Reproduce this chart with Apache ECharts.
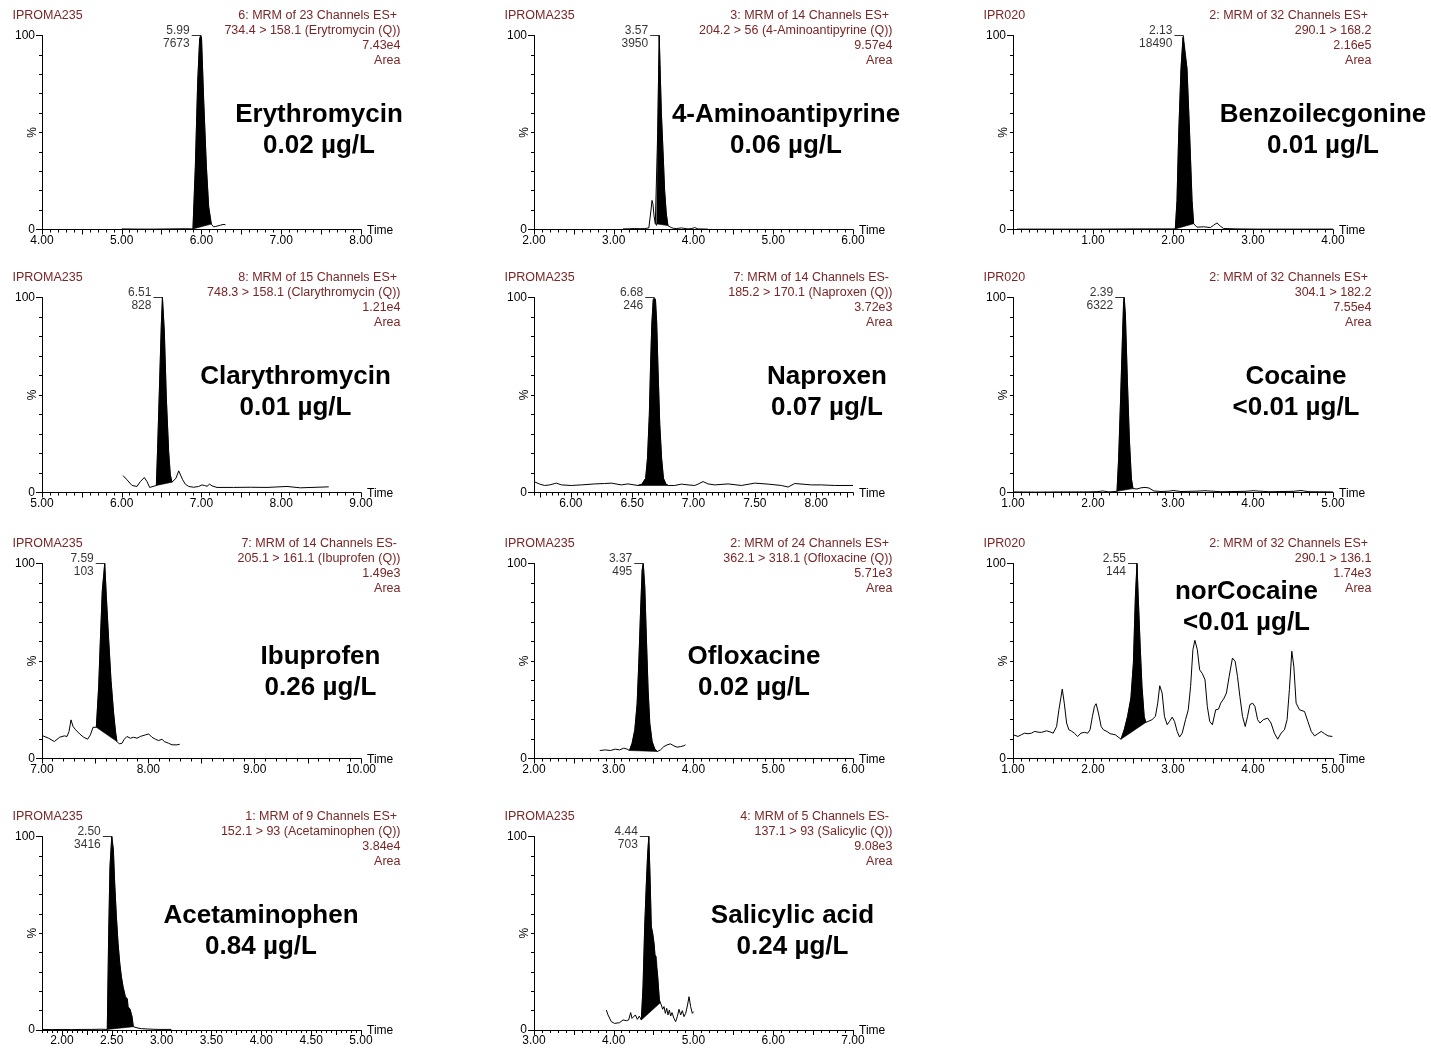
<!DOCTYPE html>
<html>
<head>
<meta charset="utf-8">
<script src="https://cdn.jsdelivr.net/npm/echarts@6/dist/echarts.min.js"></script>
<style>
html,body{margin:0;padding:0;background:#fff;}
#chart{width:1431px;height:1051px;}
</style>
</head>
<body>
<div id="chart"></div>
<script>
// ---------- DATA ----------
var sampleNames = ['IPROMA235','IPROMA235','IPR020','IPROMA235','IPROMA235','IPR020','IPROMA235','IPROMA235','IPR020','IPROMA235','IPROMA235'];
var channelInfo = [
  ['6: MRM of 23 Channels ES+','734.4 > 158.1 (Erytromycin (Q))','7.43e4','Area'],
  ['3: MRM of 14 Channels ES+','204.2 > 56 (4-Aminoantipyrine (Q))','9.57e4','Area'],
  ['2: MRM of 32 Channels ES+','290.1 > 168.2','2.16e5','Area'],
  ['8: MRM of 15 Channels ES+','748.3 > 158.1 (Clarythromycin (Q))','1.21e4','Area'],
  ['7: MRM of 14 Channels ES-','185.2 > 170.1 (Naproxen (Q))','3.72e3','Area'],
  ['2: MRM of 32 Channels ES+','304.1 > 182.2','7.55e4','Area'],
  ['7: MRM of 14 Channels ES-','205.1 > 161.1 (Ibuprofen (Q))','1.49e3','Area'],
  ['2: MRM of 24 Channels ES+','362.1 > 318.1 (Ofloxacine (Q))','5.71e3','Area'],
  ['2: MRM of 32 Channels ES+','290.1 > 136.1','1.74e3','Area'],
  ['1: MRM of 9 Channels ES+','152.1 > 93 (Acetaminophen (Q))','3.84e4','Area'],
  ['4: MRM of 5 Channels ES-','137.1 > 93 (Salicylic (Q))','9.08e3','Area']
];
var compounds = ['Erythromycin','4-Aminoantipyrine','Benzoilecgonine','Clarythromycin','Naproxen','Cocaine','Ibuprofen','Ofloxacine','norCocaine','Acetaminophen','Salicylic acid'];
var concentrations = ['0.02 µg/L','0.06 µg/L','0.01 µg/L','0.01 µg/L','0.07 µg/L','<0.01 µg/L','0.26 µg/L','0.02 µg/L','<0.01 µg/L','0.84 µg/L','0.24 µg/L'];
var peakRT = [5.99, 3.57, 2.13, 6.51, 6.68, 2.39, 7.59, 3.37, 2.55, 2.50, 4.44];
var peakHeight = [7673, 3950, 18490, 828, 246, 6322, 103, 495, 144, 3416, 703];
var peakWindows = [[5.893,6.123],[3.521,3.68],[2.029,2.258],[6.434,6.630],[6.548,6.795],[2.30,2.50],[7.511,7.705],[3.197,3.548],[2.35,2.66],[2.455,2.716],[4.346,4.584]];
var timeRanges = [[4,8],[2,6],[0,4],[5,9],[5.7,8.3],[1,5],[7,10],[2,6],[1,5],[1.8,5],[3,7]];
var timeLabels = [[4,5,6,7,8],[2,3,4,5,6],[1,2,3,4],[5,6,7,8,9],[6,6.5,7,7.5,8],[1,2,3,4,5],[7,8,9,10],[2,3,4,5,6],[1,2,3,4,5],[2,2.5,3,3.5,4,4.5,5],[3,4,5,6,7]];
var percentLabels = [0, 100];

var trace1 = [[5.00,0.3],[5.20,0.2],[5.40,0.2],[5.60,0.3],[5.80,0.4],[5.893,0.3],[5.923,32.5],[5.952,75.8],[5.977,98.3],[5.99,100],[6.00,98.8],[6.027,67],[6.061,32.5],[6.090,11.7],[6.123,2.8],[6.15,1.4],[6.18,1.6],[6.236,2.2],[6.27,2.6],[6.30,2.5]];
var trace2 = [[3.116,0.3],[3.20,0.4],[3.26,0.5],[3.33,0.4],[3.39,0.5],[3.44,0.8],[3.455,1.4],[3.467,10],[3.48,15],[3.492,13],[3.505,7],[3.521,3],[3.538,2],[3.551,50],[3.57,100],[3.58,85],[3.597,60],[3.618,40],[3.638,20],[3.659,8],[3.68,2],[3.72,1],[3.75,0.6],[3.785,0.5],[3.85,0.8],[3.93,0.3],[3.98,0.5],[4.015,1.0],[4.056,0.3],[4.18,0.2]];
var trace3 = [[0.05,0.2],[0.5,0.2],[1.0,0.2],[1.5,0.3],[1.9,0.3],[2.029,0.3],[2.05,15],[2.071,49],[2.10,83],[2.125,99],[2.13,100],[2.175,83],[2.208,49],[2.238,15],[2.258,3],[2.30,1.2],[2.383,1.4],[2.467,1.0],[2.508,2.2],[2.55,3.4],[2.592,1.7],[2.633,0.5],[2.8,0.3],[3.05,0.2],[3.5,0.2],[4.0,0.2]];
var trace4 = [[6.016,8.7],[6.066,6.5],[6.129,3.6],[6.191,3.1],[6.233,5.6],[6.283,7.7],[6.317,5.6],[6.350,2.6],[6.392,3.1],[6.434,3.6],[6.450,22.7],[6.475,56.8],[6.496,85.8],[6.51,100],[6.534,82.4],[6.559,48.3],[6.588,21.0],[6.609,9.0],[6.630,5.3],[6.651,5.6],[6.680,7.3],[6.714,11.1],[6.735,10.4],[6.764,6.5],[6.797,4.3],[6.839,3.1],[6.902,2.7],[6.964,3.1],[7.006,3.9],[7.036,3.6],[7.069,3.2],[7.102,4.3],[7.132,3.4],[7.194,2.6],[7.403,2.6],[7.612,2.7],[7.821,2.6],[8.072,3.1],[8.239,2.4],[8.595,2.9]];
var trace5 = [[5.700,5.6],[5.746,4.3],[5.787,3.6],[5.828,3.9],[5.882,4.8],[5.923,3.9],[6.004,3.6],[6.086,3.9],[6.195,4.4],[6.276,4.6],[6.330,4.8],[6.412,3.9],[6.466,4.4],[6.548,3.6],[6.58,4.3],[6.61,7.3],[6.625,17.6],[6.64,40],[6.65,65],[6.66,86],[6.672,99],[6.68,100],[6.69,99],[6.70,87],[6.71,65],[6.725,35],[6.74,17.6],[6.755,7.3],[6.775,4.3],[6.795,3.6],[6.847,3.6],[6.901,4.3],[6.955,3.9],[7.010,3.6],[7.037,4.3],[7.078,5.6],[7.118,4.4],[7.173,3.9],[7.282,4.4],[7.390,3.6],[7.499,4.8],[7.608,4.3],[7.716,3.6],[7.771,2.8],[7.825,4.6],[7.961,3.9],[8.042,3.9],[8.151,3.6],[8.30,3.6]];
var trace6 = [[1.0,0.3],[1.3,0.2],[1.6,0.3],[1.9,0.3],[2.05,0.4],[2.12,0.8],[2.2,0.3],[2.30,0.6],[2.32,17],[2.345,48],[2.37,82],[2.383,98],[2.39,100],[2.405,91],[2.43,57],[2.455,27],[2.48,7],[2.50,2],[2.55,1.8],[2.6,2.4],[2.65,2.6],[2.7,2.3],[2.76,0.8],[2.85,0.5],[2.95,0.7],[3.0,1.0],[3.1,0.5],[3.3,0.7],[3.4,0.9],[3.6,0.4],[3.9,0.6],[4.0,0.9],[4.2,0.4],[4.5,0.6],[4.6,1.0],[4.7,0.4],[5.0,0.3]];
var trace7 = [[7.009,11.6],[7.063,10.4],[7.116,8.7],[7.166,10.9],[7.210,11.6],[7.235,11.3],[7.254,13.8],[7.273,19.8],[7.292,16.4],[7.317,14.7],[7.354,12.6],[7.392,10.9],[7.429,9.9],[7.455,12.1],[7.480,16.0],[7.495,16.7],[7.511,16.0],[7.533,36.9],[7.549,60.8],[7.567,86],[7.59,100],[7.605,83],[7.627,61],[7.649,40],[7.674,23],[7.693,13],[7.705,8.7],[7.727,7.5],[7.752,7.8],[7.774,9.9],[7.799,11.3],[7.831,10.4],[7.862,10.9],[7.893,10.4],[7.925,11.3],[7.972,12.1],[8.003,12.6],[8.034,10.9],[8.066,9.9],[8.097,9.2],[8.129,9.9],[8.150,8.7],[8.191,7.8],[8.223,7.0],[8.270,7.0],[8.295,7.3]];
var trace8 = [[2.825,4.1],[2.896,4.4],[2.959,4.1],[3.021,4.8],[3.072,4.4],[3.126,5.3],[3.168,4.8],[3.197,4.1],[3.230,7.8],[3.264,14.7],[3.293,28],[3.314,48.8],[3.335,74],[3.356,96.6],[3.37,100],[3.389,88],[3.410,60.8],[3.431,35],[3.452,18],[3.481,8.7],[3.515,4.8],[3.548,3.6],[3.586,4.4],[3.628,6.1],[3.669,7.0],[3.711,7.5],[3.753,6.5],[3.795,5.8],[3.837,6.1],[3.878,6.5],[3.899,7.0]];
var trace9 = [[1.000,12.2],[1.063,11.3],[1.105,12.2],[1.147,13.0],[1.188,12.7],[1.230,13.0],[1.272,13.9],[1.314,13.5],[1.356,13.4],[1.419,14.2],[1.461,13.7],[1.503,13.0],[1.545,16.4],[1.574,25.0],[1.616,35.6],[1.641,28.4],[1.670,18.2],[1.699,14.7],[1.733,14.0],[1.766,13.0],[1.808,11.3],[1.850,13.0],[1.892,13.4],[1.934,13.0],[1.963,14.7],[1.993,21.6],[2.018,26.7],[2.039,28.1],[2.068,23.3],[2.102,16.4],[2.131,14.7],[2.173,13.9],[2.215,12.7],[2.277,12.2],[2.35,9.9],[2.39,14.7],[2.432,21.6],[2.474,31.0],[2.505,49.0],[2.53,83.2],[2.55,100],[2.565,83.2],[2.59,57.5],[2.612,37.0],[2.64,21.6],[2.66,18.5],[2.688,19.0],[2.738,19.9],[2.780,21.6],[2.809,28.4],[2.834,37.3],[2.864,33.6],[2.893,21.6],[2.927,17.3],[2.956,19.0],[2.990,21.2],[3.019,19.0],[3.052,13.9],[3.082,11.0],[3.115,13.0],[3.157,19.9],[3.191,25.0],[3.220,37.0],[3.249,55.8],[3.274,60.6],[3.304,55.8],[3.333,45.5],[3.367,43.5],[3.400,40.4],[3.429,26.7],[3.459,19.0],[3.492,17.3],[3.534,25.0],[3.568,25.3],[3.597,28.4],[3.639,31.0],[3.668,33.6],[3.702,42.1],[3.743,51.5],[3.777,49.8],[3.806,42.1],[3.836,31.8],[3.869,21.6],[3.903,16.4],[3.932,21.6],[3.961,27.6],[3.995,28.4],[4.024,26.7],[4.058,19.9],[4.087,18.2],[4.129,19.9],[4.183,20.7],[4.225,18.2],[4.267,13.0],[4.309,9.9],[4.351,13.0],[4.393,14.7],[4.426,19.9],[4.455,35.3],[4.485,55.0],[4.510,47.3],[4.539,28.4],[4.581,25.0],[4.644,24.1],[4.686,19.0],[4.728,13.9],[4.770,11.6],[4.811,12.7],[4.853,13.9],[4.895,12.7],[4.937,11.6],[4.992,11.3]];
var trace10 = [[1.81,0.3],[1.9,0.2],[2.0,0.3],[2.1,0.2],[2.2,0.3],[2.3,0.3],[2.4,0.4],[2.455,0.3],[2.469,50],[2.482,84.5],[2.50,100],[2.516,93],[2.529,75.9],[2.546,58.6],[2.563,44.8],[2.580,34.5],[2.596,27.6],[2.613,22.4],[2.636,17.2],[2.656,16],[2.663,12],[2.683,10.7],[2.703,6.9],[2.716,1.7],[2.730,1.2],[2.763,1.0],[2.797,0.7],[2.864,0.5],[2.964,0.3],[3.098,0.3]];
var trace11 = [[3.907,10.3],[3.928,7.8],[3.970,4.3],[4.011,3.4],[4.074,3.8],[4.116,5.2],[4.158,4.8],[4.187,5.2],[4.212,9.0],[4.229,6.0],[4.254,6.0],[4.271,7.8],[4.296,5.5],[4.321,7.2],[4.346,5.2],[4.367,22.4],[4.388,53.4],[4.409,75.9],[4.425,91],[4.44,100],[4.455,79.3],[4.471,53.4],[4.488,50],[4.505,44.8],[4.517,38.8],[4.534,37.9],[4.551,27.6],[4.572,15.5],[4.584,14.1],[4.597,12.9],[4.613,10.7],[4.630,12.1],[4.647,8.6],[4.664,11.2],[4.680,7.8],[4.697,10.3],[4.714,7.2],[4.730,9.0],[4.755,6.0],[4.776,4.3],[4.797,6.9],[4.818,10.7],[4.839,7.8],[4.860,10.0],[4.881,6.9],[4.902,8.6],[4.923,12.4],[4.944,17.2],[4.964,12.1],[4.985,8.6],[5.002,9.5]];
var traces = [trace1,trace2,trace3,trace4,trace5,trace6,trace7,trace8,trace9,trace10,trace11];

// ---------- LAYOUT ----------
var colLeft = [42, 534, 1013];
var colWidth = [319, 319, 320];
var rowTop = [35.5, 297.5, 563.5, 836.5];
var rowHeight = [194, 195, 195, 193.5];
var tickSteps = [[0.1,0.5],[0.1,0.5],[0.1,0.5],[0.1,0.5],[0.05,0.25],[0.1,0.5],[0.1,0.5],[0.1,0.5],[0.1,0.5],[0.05,0.25],[0.1,0.5]];
var namePos = [[319,115],[786,115],[1323,115],[295.5,377],[827,377],[1296,377],[320.5,657],[754,657],[1246.5,592],[261,916],[792.5,916]];

var FONT = '"Liberation Sans", Arial, Helvetica, sans-serif';
var RED = '#7a2626';

function stepValues(min, max, step){
  var out = [];
  var k0 = Math.ceil(min/step - 1e-6), k1 = Math.floor(max/step + 1e-6);
  for (var k = k0; k <= k1; k++) out.push(Math.round(k*step*1000)/1000);
  return out;
}

var grids = [], xAxes = [], yAxes = [], series = [], graphics = [];

traces.forEach(function(tr, i){
  var r = Math.floor(i/3), c = i % 3;
  grids.push({left: colLeft[c], top: rowTop[r], width: colWidth[c], height: rowHeight[r], containLabel:false, outerBoundsMode:'none'});
  var xr = timeRanges[i];
  var majors = stepValues(xr[0], xr[1], tickSteps[i][1]);
  var minors = stepValues(xr[0], xr[1], tickSteps[i][0]).filter(function(v){ return majors.indexOf(v) < 0; });
  xAxes.push({
    gridIndex:i, type:'value', min:xr[0], max:xr[1], position:'bottom',
    axisLine:{show:true, onZero:false, lineStyle:{color:'#000', width:1}},
    axisTick:{show:true, customValues:majors, length:5, lineStyle:{color:'#000', width:1}},
    axisLabel:{show:true, customValues:timeLabels[i], formatter:function(v){ return Number(v).toFixed(2); }, color:'#000', fontSize:12, margin:5, fontFamily:FONT},
    splitLine:{show:false}
  });
  xAxes.push({
    gridIndex:i, type:'value', min:xr[0], max:xr[1], position:'bottom',
    axisLine:{show:false}, axisLabel:{show:false}, splitLine:{show:false},
    axisTick:{show:true, customValues:minors, length:3, lineStyle:{color:'#000', width:1}}
  });
  yAxes.push({
    gridIndex:i, type:'value', min:0, max:100, position:'left',
    axisLine:{show:true, onZero:false, lineStyle:{color:'#000', width:1}},
    axisTick:{show:true, customValues:percentLabels, length:6, lineStyle:{color:'#000', width:1}},
    axisLabel:{show:true, customValues:percentLabels, color:'#000', fontSize:12, margin:7, fontFamily:FONT},
    splitLine:{show:false}
  });
  yAxes.push({
    gridIndex:i, type:'value', min:0, max:100, position:'left',
    axisLine:{show:false}, axisLabel:{show:false}, splitLine:{show:false},
    axisTick:{show:true, customValues:[10,20,30,40,50,60,70,80,90], length:3, lineStyle:{color:'#000', width:1}}
  });

  // trace line
  series.push({type:'line', xAxisIndex:2*i, yAxisIndex:2*i, data:tr, showSymbol:false, symbol:'none',
    lineStyle:{color:'#000', width:1}, animation:false, silent:true, z:3});

  // integrated (filled) peak
  var win = peakWindows[i];
  var pts = tr.filter(function(p){ return p[0] >= win[0]-1e-9 && p[0] <= win[1]+1e-9; });
  series.push({type:'custom', xAxisIndex:2*i, yAxisIndex:2*i, data:[pts[0]], animation:false, silent:true, z:2,
    renderItem:(function(pp){ return function(params, api){
      return {type:'polygon', shape:{points: pp.map(function(p){ return api.coord(p); })},
        style:{fill:'#000', stroke:'#000', lineWidth:0.6}};
    }; })(pts)});

  // peak apex label
  series.push({type:'scatter', xAxisIndex:2*i, yAxisIndex:2*i, data:[[peakRT[i], 100]],
    symbol:'rect', symbolSize:[9,1], symbolOffset:[-4.5,0], itemStyle:{color:'#000'},
    animation:false, silent:true, z:4,
    label:{show:true, position:'left', distance:2, offset:[0,2], align:'right',
      formatter: peakRT[i].toFixed(2) + '\n' + peakHeight[i],
      color:'#000', fontSize:12, lineHeight:13, fontFamily:FONT}});

  // axis titles
  graphics.push({type:'text', x: colLeft[c] + colWidth[c] + 6, y: rowTop[r] + rowHeight[r] + 1, silent:true,
    style:{text:'Time', fill:'#000', font:'12px ' + FONT, align:'left', verticalAlign:'middle'}});
  graphics.push({type:'text', x: colLeft[c] - 9, y: rowTop[r] + rowHeight[r]/2, rotation: Math.PI/2, silent:true,
    style:{text:'%', fill:'#000', font:'12px ' + FONT, align:'center', verticalAlign:'middle'}});

  // texts
  var hy = rowTop[r] - 20;
  graphics.push({type:'text', x: colLeft[c]-29.5, y: hy, silent:true,
    style:{text: sampleNames[i], fill: RED, font: '12.5px ' + FONT, align:'left', verticalAlign:'middle'}});
  channelInfo[i].forEach(function(line, k){
    graphics.push({type:'text', x: colLeft[c]+358.5, y: hy + k*15, silent:true,
      style:{text: k === 0 ? line + ' ' : line, fill: RED, font: '12.5px ' + FONT, align:'right', verticalAlign:'middle'}});
  });
  graphics.push({type:'text', x: namePos[i][0], y: namePos[i][1], silent:true,
    style:{text: compounds[i], fill:'#000', font:'bold 26px ' + FONT, align:'center', verticalAlign:'middle'}});
  graphics.push({type:'text', x: namePos[i][0], y: namePos[i][1] + 31, silent:true,
    style:{text: concentrations[i], fill:'#000', font:'bold 26px ' + FONT, align:'center', verticalAlign:'middle'}});
});

var chart = echarts.init(document.getElementById('chart'), null, {renderer:'canvas', width:1431, height:1051});
chart.setOption({
  backgroundColor:'#fff',
  animation:false,
  textStyle:{fontFamily:FONT},
  grid:grids, xAxis:xAxes, yAxis:yAxes, series:series, graphic:graphics
});
</script>
</body>
</html>
